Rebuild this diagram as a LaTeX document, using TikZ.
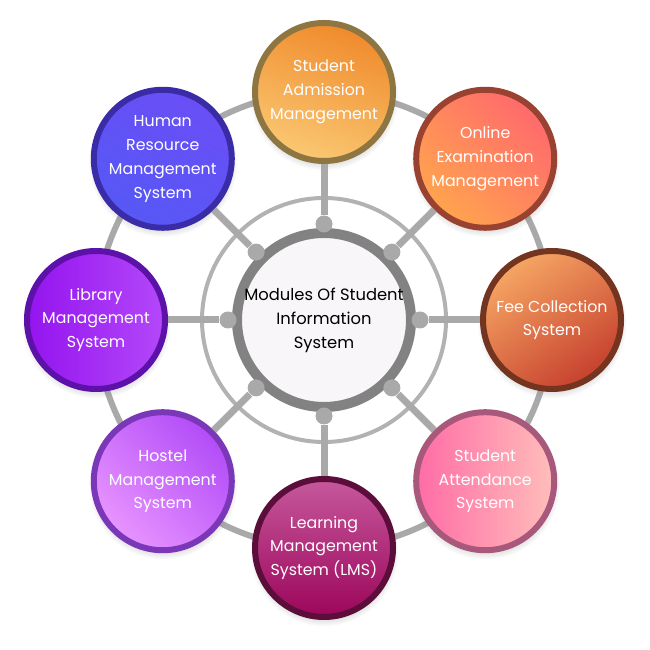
\documentclass[tikz,border=0pt]{standalone}
\usepackage{fontspec}
\setmainfont{Poppins}
\usepackage{tikz}
\usetikzlibrary{positioning,shadows,backgrounds}
\definecolor{spokegray}{HTML}{A9A9A9}
\definecolor{ringgray}{HTML}{828282}
\definecolor{hubwhite}{HTML}{F8F6F8}
\definecolor{admtop}{HTML}{F08A2C}
\definecolor{admbot}{HTML}{FAC872}
\definecolor{admrim}{HTML}{8E7642}
\definecolor{examtop}{HTML}{FF6A6C}
\definecolor{exambot}{HTML}{FFA44E}
\definecolor{examrim}{HTML}{9A4232}
\definecolor{feetop}{HTML}{F6A664}
\definecolor{feebot}{HTML}{C6402E}
\definecolor{feerim}{HTML}{733420}
\definecolor{attleft}{HTML}{FF6CA6}
\definecolor{attright}{HTML}{FFBEBA}
\definecolor{attrim}{HTML}{A8587A}
\definecolor{lmstop}{HTML}{C6589E}
\definecolor{lmsbot}{HTML}{9C0659}
\definecolor{lmsrim}{HTML}{5C0E3A}
\definecolor{hosttop}{HTML}{B24CF8}
\definecolor{hostbot}{HTML}{E894FF}
\definecolor{hostrim}{HTML}{7A38B8}
\definecolor{libleft}{HTML}{9414EE}
\definecolor{libright}{HTML}{B448FA}
\definecolor{librim}{HTML}{5C12A8}
\definecolor{hrtop}{HTML}{6A4EF6}
\definecolor{hrbot}{HTML}{5658F6}
\definecolor{hrrim}{HTML}{3A2CA6}

\begin{document}
\begin{tikzpicture}[
			hubnode/.style={circle,draw=ringgray,line width=0.2cm,fill=hubwhite,minimum size=3.48cm,inner sep=0pt,align=center,text=black,font=\fontsize{9.3}{13.6}\selectfont},
			modnode/.style={circle,line width=0.12cm,minimum size=2.76cm,inner sep=0pt,align=center,text=white,font=\fontsize{9}{13.6}\selectfont,
				circular drop shadow={shadow xshift=0pt,shadow yshift=-2pt,shadow scale=1.08,opacity=0.35}},
			pin/.style={circle,fill=spokegray,minimum size=0.34cm,inner sep=0pt},
			spoke/.style={spokegray,line width=0.14cm},
			thinring/.style={draw=spokegray!90,line width=0.08cm},
			linkring/.style={draw=spokegray,line width=0.12cm}
			]
			\useasboundingbox (0,0) rectangle (13,13);
			\coordinate (c) at (6.48,6.6);
			\draw[linkring] (c) circle (4.56cm);
			\draw[thinring] (c) circle (2.44cm);
			\node[hubnode] (hub) at (c) {Modules Of Student\\Information\\System};
			\node[pin] (p1) at ([shift={(90:1.92)}]c) {};
			\node[pin] (p2) at ([shift={(45:1.92)}]c) {};
			\node[pin] (p3) at ([shift={(0:1.92)}]c) {};
			\node[pin] (p4) at ([shift={(-45:1.92)}]c) {};
			\node[pin] (p5) at ([shift={(-90:1.92)}]c) {};
			\node[pin] (p6) at ([shift={(-135:1.92)}]c) {};
			\node[pin] (p7) at ([shift={(180:1.92)}]c) {};
			\node[pin] (p8) at ([shift={(135:1.92)}]c) {};
			\node[modnode,draw=admrim,top color=admtop,bottom color=admbot,shading angle=-20] (adm) at ([shift={(90:4.56)}]c) {Student\\Admission\\Management};
			\node[modnode,draw=examrim,top color=examtop,bottom color=exambot,shading angle=-45] (exam) at ([shift={(45:4.56)}]c) {Online\\Examination\\Management};
			\node[modnode,draw=feerim,top color=feetop,bottom color=feebot,shading angle=35] (fee) at ([shift={(0:4.56)}]c) {Fee Collection\\System};
			\node[modnode,draw=attrim,left color=attleft,right color=attright] (att) at ([shift={(-45:4.56)}]c) {Student\\Attendance\\System};
			\node[modnode,draw=lmsrim,top color=lmstop,bottom color=lmsbot] (lms) at ([shift={(-90:4.56)}]c) {Learning\\Management\\System (LMS)};
			\node[modnode,draw=hostrim,top color=hosttop,bottom color=hostbot,shading angle=-45] (host) at ([shift={(-135:4.56)}]c) {Hostel\\Management\\System};
			\node[modnode,draw=librim,left color=libleft,right color=libright] (lib) at ([shift={(180:4.56)}]c) {Library\\Management\\System};
			\node[modnode,draw=hrrim,top color=hrtop,bottom color=hrbot,shading angle=-30] (hr) at ([shift={(135:4.56)}]c) {Human\\Resource\\Management\\System};
			\draw[spoke] (p1)--(adm); \draw[spoke] (p2)--(exam);
			\draw[spoke] (p3)--(fee); \draw[spoke] (p4)--(att);
			\draw[spoke] (p5)--(lms); \draw[spoke] (p6)--(host);
			\draw[spoke] (p7)--(lib); \draw[spoke] (p8)--(hr);
		\end{tikzpicture}
\end{document}
